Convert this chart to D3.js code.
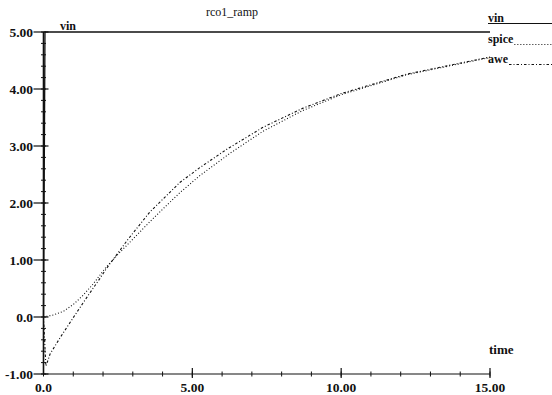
<!DOCTYPE html>
<html>
<head>
<meta charset="utf-8">
<script src="https://cdn.jsdelivr.net/npm/d3@7"></script>
<style>
  body { margin: 0; background: #fff; }
  text { font-family: "Liberation Serif", "Times New Roman", serif; fill: #111; }
</style>
</head>
<body>
<div id="chart"></div>
<script>
// chart data
let title = "rco1_ramp";
let xTicks = [0, 5, 10, 15];
let xTickLabels = ["0.0", "5.00", "10.00", "15.00"];
let yTicks = [-1, 0, 1, 2, 3, 4, 5];
let yTickLabels = ["-1.00", "0.0", "1.00", "2.00", "3.00", "4.00", "5.00"];
let seriesNames = ["vin", "spice", "awe"];

// [time, volts]
let vin = [[0, 0], [0.05, 5], [15, 5]];
let spice = [[0, 0], [0.33, 0.035], [0.67, 0.1], [1.0, 0.22], [1.33, 0.38], [1.67, 0.58],
  [2.05, 0.84], [2.5, 1.1], [3.01, 1.37], [3.57, 1.67], [4.08, 1.93], [4.58, 2.18],
  [5.25, 2.48], [6.26, 2.87], [7.38, 3.26], [8.7, 3.62], [10.0, 3.9], [12.2, 4.25],
  [14.7, 4.52], [15, 4.55]];
let awe = [[0, 0], [0.08, -0.86], [0.15, -0.76], [0.22, -0.65], [0.55, -0.37], [1.0, -0.01],
  [1.45, 0.34], [1.9, 0.68], [2.1, 0.84], [2.85, 1.37], [3.57, 1.84], [4.58, 2.36],
  [5.25, 2.62], [6.15, 2.94], [7.38, 3.33], [8.7, 3.66], [10.0, 3.92], [12.2, 4.26],
  [14.7, 4.53], [15, 4.56]];

let width = 552, height = 395;
let svg = d3.select("#chart").append("svg")
  .attr("width", width).attr("height", height);

let x = d3.scaleLinear().domain([0, 15]).range([43.5, 490]);
let y = d3.scaleLinear().domain([-1, 5]).range([374, 32]);

// title
svg.append("text").attr("x", 232).attr("y", 16)
  .attr("text-anchor", "middle").style("font-size", "12px")
  .text(title);

// axes lines
let axes = svg.append("g").attr("stroke", "#111").attr("fill", "none");
axes.append("line").attr("x1", x(0)).attr("x2", x(0)).attr("y1", y(5)).attr("y2", y(-1))
  .attr("stroke-width", 1.6);
axes.append("line").attr("x1", x(0)).attr("x2", x(15)).attr("y1", y(-1)).attr("y2", y(-1))
  .attr("stroke-width", 1.2);

// minor ticks
let yMinor = d3.range(-1, 5.001, 0.2);
axes.selectAll(".ym").data(yMinor).enter().append("line")
  .attr("x1", x(0) - 2.5).attr("x2", x(0) + 2.5)
  .attr("y1", d => y(d)).attr("y2", d => y(d));
let xMinor = d3.range(0, 15.001, 1);
axes.selectAll(".xm").data(xMinor).enter().append("line")
  .attr("x1", d => x(d)).attr("x2", d => x(d))
  .attr("y1", y(-1) - 2.5).attr("y2", y(-1) + 2.5);

// major ticks
axes.selectAll(".yM").data(yTicks).enter().append("line")
  .attr("x1", x(0) - 10).attr("x2", x(0) + 5)
  .attr("y1", d => y(d)).attr("y2", d => y(d)).attr("stroke-width", 1.2);
axes.selectAll(".xM").data(xTicks.slice(1)).enter().append("line")
  .attr("x1", d => x(d)).attr("x2", d => x(d))
  .attr("y1", y(-1) - 6).attr("y2", y(-1) + 4).attr("stroke-width", 1.2);

// tick labels
svg.selectAll(".yl").data(yTicks).enter().append("text")
  .attr("x", 33).attr("y", d => y(d) + 4.5)
  .attr("text-anchor", "end")
  .style("font-size", "13.5px").style("font-weight", "bold")
  .text((d, i) => yTickLabels[i]);
svg.selectAll(".xl").data(xTicks).enter().append("text")
  .attr("x", d => x(d)).attr("y", 392)
  .attr("text-anchor", "middle")
  .style("font-size", "13.5px").style("font-weight", "bold")
  .text((d, i) => xTickLabels[i]);

svg.append("text").attr("x", 489).attr("y", 354)
  .style("font-size", "13px").style("font-weight", "bold").text("time");

// curves
let line = d3.line().x(d => x(d[0])).y(d => y(d[1]));
let dashes = [null, "1,2", "2.5,2,1,2"];
[vin, spice, awe].forEach((s, i) => {
  svg.append("path").datum(s)
    .attr("d", line)
    .attr("fill", "none").attr("stroke", "#111")
    .attr("stroke-width", i == 0 ? 1.3 : 1.1)
    .attr("stroke-dasharray", dashes[i]);
});

// vin label at start of curve
svg.append("text").attr("x", 60).attr("y", 30)
  .style("font-size", "12px").style("font-weight", "bold").text("vin");

// legend on the right
let legY = [23, 44, 64];
seriesNames.forEach((name, i) => {
  let t = svg.append("text").attr("x", 488).attr("y", legY[i] - 1)
    .style("font-size", "12px").style("font-weight", "bold").text(name);
  let w = t.node().getComputedTextLength();
  svg.append("line")
    .attr("x1", i == 0 ? 488 : 488 + w + 1).attr("x2", 552)
    .attr("y1", legY[i] + 0.5).attr("y2", legY[i] + 0.5)
    .attr("stroke", "#111").attr("stroke-width", 1)
    .attr("stroke-dasharray", dashes[i]);
});
</script>
</body>
</html>
